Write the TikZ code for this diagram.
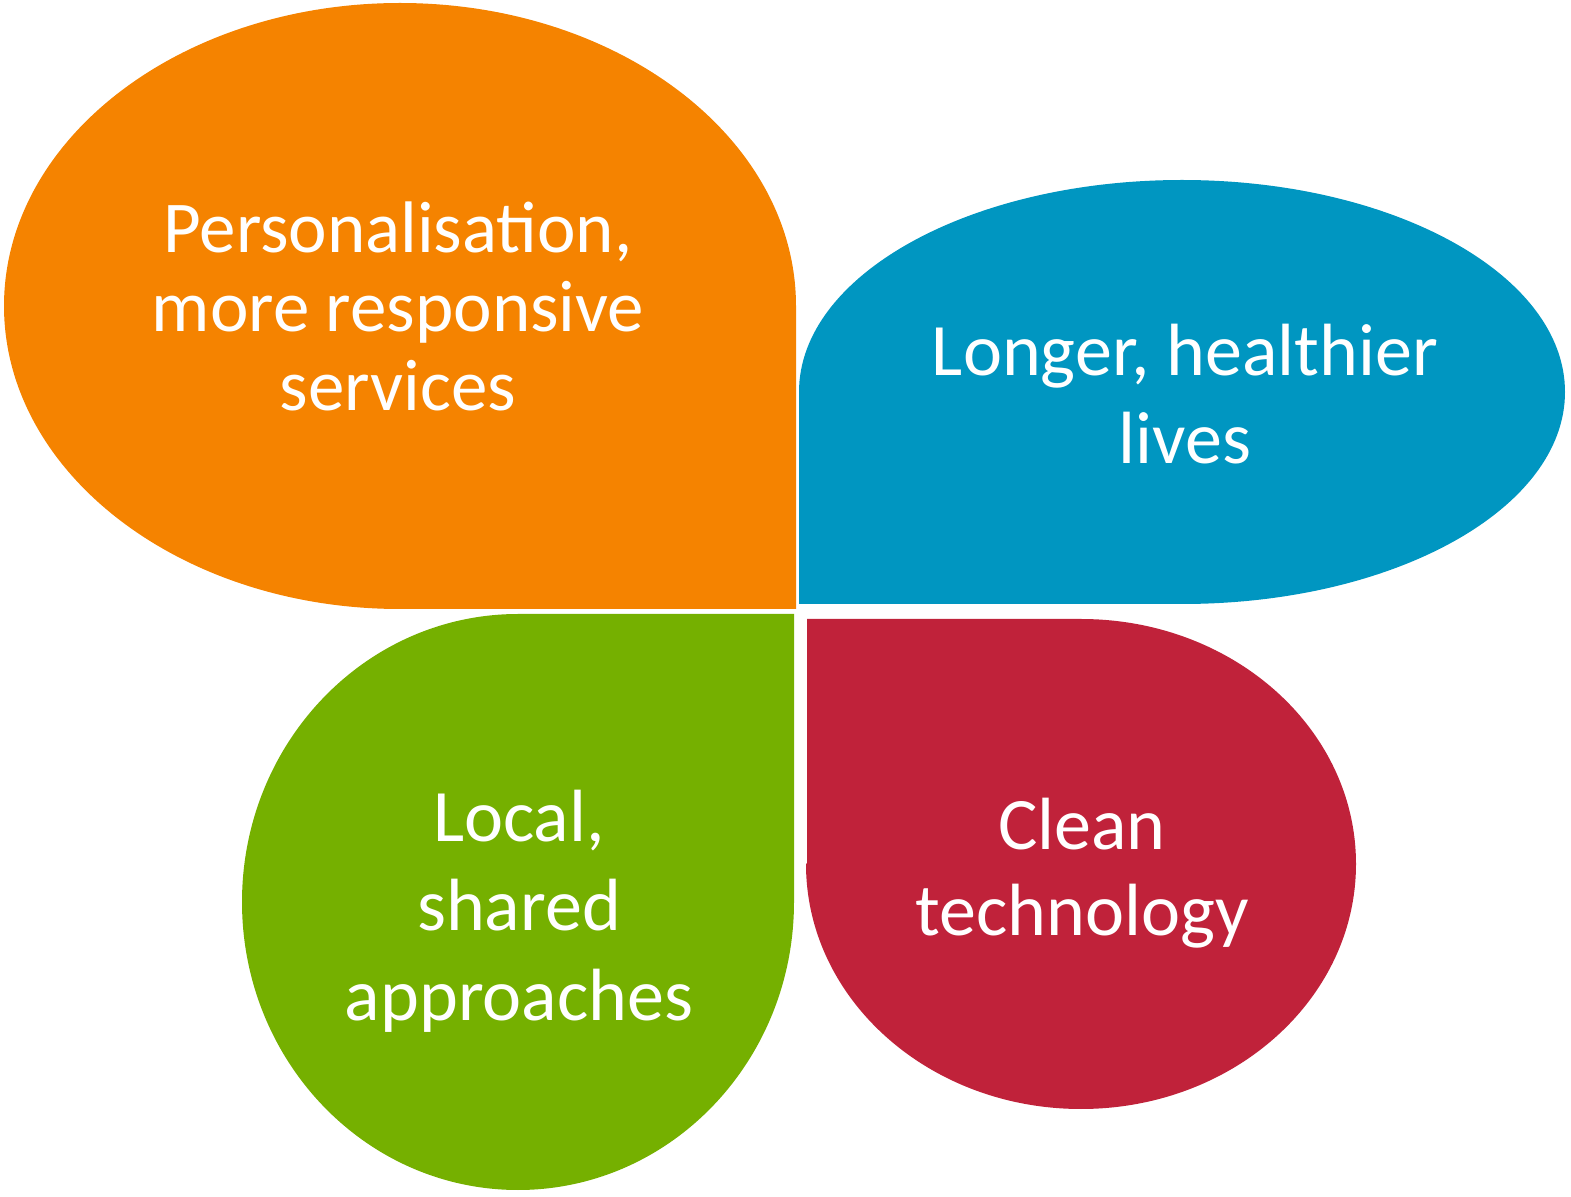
\documentclass[tikz,border=0pt]{standalone}
\usepackage{fontspec}
\setmainfont{Carlito}
\definecolor{orangeP}{RGB}{245,131,0}
\definecolor{blueP}{RGB}{0,150,193}
\definecolor{greenP}{RGB}{117,176,0}
\definecolor{redP}{RGB}{192,34,58}
\begin{document}
\begin{tikzpicture}[x=0.5pt, y=0.5pt, t/.style={text=white, align=center, font=\fontsize{37}{44}\selectfont}]
		\useasboundingbox (0,0) rectangle (1571,1196);
		% petals
		\fill[orangeP] (398,587) -- (796,587) -- (796,890) arc[start angle=0, end angle=270, x radius=396, y radius=303] -- cycle;
		\fill[blueP] (1181,592) -- (799,592) -- (799,804) arc[start angle=180, end angle=-90, x radius=383, y radius=212] -- cycle;
		\fill[greenP] (794,294) -- (794,582) -- (518,582) arc[start angle=90, end angle=360, x radius=276, y radius=288] -- cycle;
		\fill[redP] (807,333) -- (807,577) -- (1081,577) arc[start angle=90, end angle=-180, x radius=275, y radius=245] -- cycle;
		% labels
		\node[t, font=\fontsize{36.5}{39.5}\selectfont] (P) at (398,890) {Personalisation,\\more responsive\\services};
		\node[t] (L) at (1185,802) {Longer, healthier\\lives};
		\node[t, font=\fontsize{37}{44.75}\selectfont] (S) at (519,285) {Local,\\shared\\approaches};
		\node[t, font=\fontsize{37}{43}\selectfont] (C) at (1082,323) {Clean\\technology};
	\end{tikzpicture}
\end{document}
